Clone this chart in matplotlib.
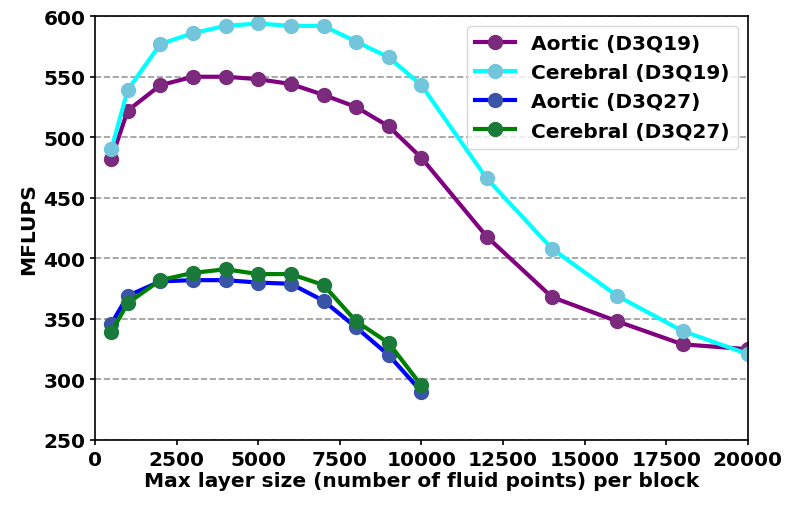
import matplotlib.pyplot as plt

# layer sizes
x19 = [500, 1000, 2000, 3000, 4000, 5000, 6000, 7000, 8000, 9000, 10000,
       12000, 14000, 16000, 18000, 20000]
x27 = [500, 1000, 2000, 3000, 4000, 5000, 6000, 7000, 8000, 9000, 10000]

aortic_19 = [482, 522, 543, 550, 550, 548, 544, 535, 525, 509, 483,
             418, 368, 348, 329, 325]
cerebral_19 = [490, 539, 577, 586, 592, 594, 592, 592, 579, 566, 543,
               466, 408, 369, 340, 321]
aortic_27 = [346, 369, 381, 382, 382, 380, 379, 365, 343, 320, 290]
cerebral_27 = [339, 363, 382, 388, 391, 387, 387, 378, 348, 330, 295]

plt.rcParams['font.weight'] = 'bold'
plt.rcParams['axes.labelweight'] = 'bold'

fig = plt.figure(figsize=(7.88, 5.06), dpi=100)
ax = fig.add_axes([0.1206, 0.1285, 0.8284, 0.8375])

ax.plot(x19, aortic_19, '-o', color='purple', mfc='#7b2a7e', mec='#7b2a7e',
        lw=3, ms=10, label='Aortic (D3Q19)')
ax.plot(x19, cerebral_19, '-o', color='cyan', mfc='#72c5db', mec='#72c5db',
        lw=3, ms=10, label='Cerebral (D3Q19)')
ax.plot(x27, aortic_27, '-o', color='blue', mfc='#3a55a8', mec='#3a55a8',
        lw=3, ms=10, label='Aortic (D3Q27)')
ax.plot(x27, cerebral_27, '-o', color='green', mfc='#1a7a3a', mec='#1a7a3a',
        lw=3, ms=10, label='Cerebral (D3Q27)')

ax.set_xlim(0, 20000)
ax.set_ylim(250, 600)
ax.set_xticks(range(0, 20001, 2500))
ax.set_yticks(range(250, 601, 50))
ax.tick_params(labelsize=14.5, width=1.2)
ax.yaxis.grid(True, linestyle='--', color='gray', alpha=0.8, lw=1.2)
ax.set_axisbelow(True)
for s in ax.spines.values():
    s.set_linewidth(1.2)

ax.set_xlabel('Max layer size (number of fluid points) per block', fontsize=14.5,
              labelpad=2)
ax.set_ylabel('MFLUPS', fontsize=14.5)
ax.legend(loc='upper right', fontsize=14.5)

fig.savefig('out.png', dpi=100)
